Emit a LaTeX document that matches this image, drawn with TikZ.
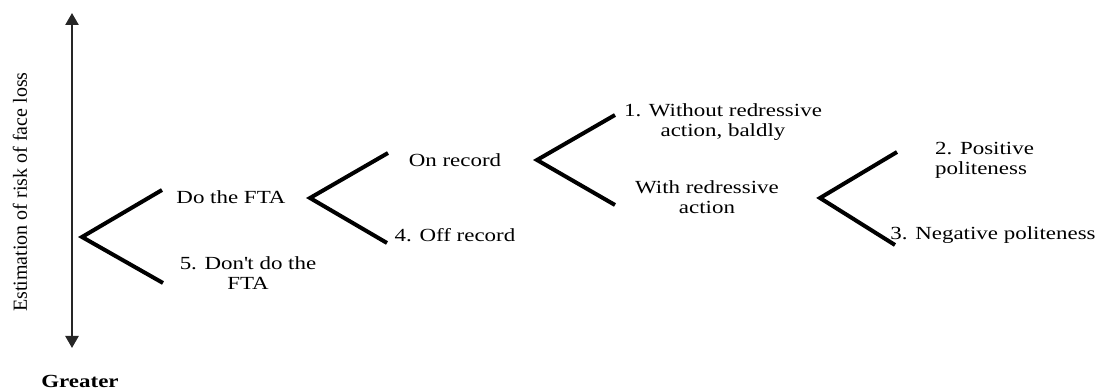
\documentclass[tikz,border=0pt]{standalone}
\usepackage{fontspec}
\setmainfont{Liberation Serif}[FakeStretch=1.24]
\newfontfamily\rotfont{Liberation Serif}
\usetikzlibrary{arrows.meta}
\begin{document}
\begin{tikzpicture}[x=1pt,y=1pt,
  lbl/.style={inner sep=0pt, font=\fontsize{18.5}{20}\selectfont, align=center},
  branch/.style={line width=4pt, line join=miter, line cap=butt, black},
  axisline/.style={line width=2.5pt, black!85, {Triangle[width=13pt,length=12pt]}-{Triangle[width=13pt,length=12pt]}}]
\useasboundingbox (0,0) rectangle (1103,390);
% axis
\coordinate (axtop) at (72,377);
\coordinate (axbot) at (72,42);
\draw[axisline] (axbot) -- (axtop);
\node[inner sep=0pt, rotate=90, font=\rotfont\fontsize{20}{22}\selectfont] (axlabel) at (20,198) {Estimation of risk of face loss};
\node[inner sep=0pt, anchor=base, font=\fontsize{18.5}{20}\selectfont\bfseries] (greater) at (80,2) {Greater};
% branch coordinates
\coordinate (v1) at (82,153);  \coordinate (u1) at (162,200); \coordinate (l1) at (163,107);
\coordinate (v2) at (310,192); \coordinate (u2) at (388,237); \coordinate (l2) at (387,147);
\coordinate (v3) at (537,230); \coordinate (u3) at (615,275); \coordinate (l3) at (615,185);
\coordinate (v4) at (820,192); \coordinate (u4) at (897,238); \coordinate (l4) at (895,145);
\draw[branch] (u1) -- (v1) -- (l1);
\draw[branch] (u2) -- (v2) -- (l2);
\draw[branch] (u3) -- (v3) -- (l3);
\draw[branch] (u4) -- (v4) -- (l4);
% labels
\node[lbl] (dofta) at (231,193) {Do the FTA};
\node[lbl] (dont) at (248,117) {5. Don\textquotesingle t do the\\FTA};
\node[lbl] (onrec) at (455,230) {On record};
\node[lbl] (offrec) at (455,155) {4. Off record};
\node[lbl] (without) at (723,268) {1. Without redressive\\action, baldly};
\node[lbl] (with) at (707,193) {With redressive\\action};
\node[lbl, anchor=west, align=left] (pos) at (935,230) {2. Positive\\politeness};
\node[lbl] (neg) at (993,155) {3. Negative politeness};
\end{tikzpicture}
\end{document}
